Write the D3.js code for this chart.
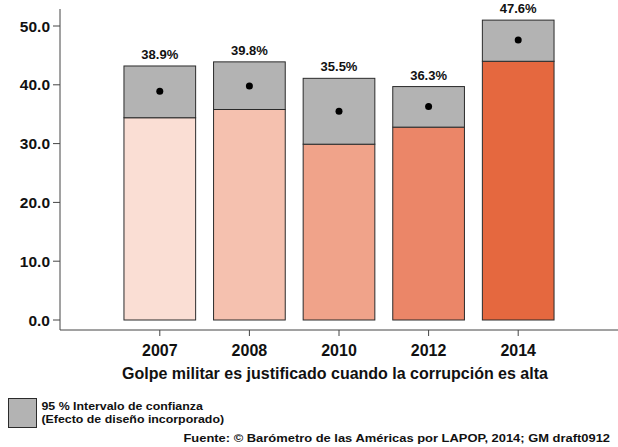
<!DOCTYPE html>
<html>
<head>
<meta charset="utf-8">
<script src="https://cdn.jsdelivr.net/npm/d3@7"></script>
<style>
  html, body { margin: 0; padding: 0; background: #fff; }
  svg { display: block; font-family: "Liberation Sans", Arial, Helvetica, sans-serif; }
</style>
</head>
<body>
<svg id="chart" width="618" height="447"></svg>
<script>
// ---- data ----
const years = ["2007", "2008", "2010", "2012", "2014"];
const means = [38.9, 39.8, 35.5, 36.3, 47.6];
const ciLow = [34.4, 35.8, 29.9, 32.8, 44.0];
const ciHigh = [43.2, 43.9, 41.1, 39.7, 51.0];
const yTicks = [0, 10, 20, 30, 40, 50];
const xTitle = "Golpe militar es justificado cuando la corrupción es alta";
const legendLines = ["95 % Intervalo de confianza", "(Efecto de diseño incorporado)"];
const source = "Fuente: \u00A9 Barómetro de las Américas por LAPOP, 2014; GM draft0912";

// ---- styles ----
const barColors = ["#FADED4", "#F5C1AF", "#F0A38A", "#EB8668", "#E5683F"];
const ciColor = "#B3B3B3";
const strokeColor = "#2b2b2b";

const svg = d3.select("#chart");
const data = years.map((y, i) => ({ year: y, mean: means[i], lo: ciLow[i], hi: ciHigh[i], color: barColors[i] }));

const x = d3.scaleBand().domain(years).range([115, 563]).paddingInner(0.2).paddingOuter(0.1);
const y = d3.scaleLinear().domain([0, 50]).range([320, 26]);

// y axis
const yAxis = svg.append("g").attr("transform", "translate(60,0)");
yAxis.append("line").attr("x1", 0).attr("x2", 0).attr("y1", 9).attr("y2", 330)
  .attr("stroke", "#444").attr("stroke-width", 1);
yAxis.selectAll("g.t").data(yTicks).join("g").attr("class", "t")
  .attr("transform", d => `translate(0,${y(d)})`)
  .each(function (d) {
    const g = d3.select(this);
    g.append("line").attr("x1", -7).attr("x2", 0).attr("stroke", "#444");
    g.append("text").attr("x", -10).attr("dy", "0.36em").attr("text-anchor", "end")
      .attr("font-size", 15.5).attr("font-weight", "bold").attr("fill", "#111")
      .text(d3.format(".1f")(d));
  });

// x axis
const xAxis = svg.append("g").attr("transform", "translate(0,330)");
xAxis.append("line").attr("x1", 60).attr("x2", 618).attr("stroke", "#444");
xAxis.selectAll("g.t").data(years).join("g").attr("class", "t")
  .attr("transform", d => `translate(${x(d) + x.bandwidth() / 2},0)`)
  .each(function (d) {
    const g = d3.select(this);
    g.append("line").attr("y1", 0).attr("y2", 6).attr("stroke", "#444");
    g.append("text").attr("y", 26).attr("text-anchor", "middle")
      .attr("font-size", 16).attr("font-weight", "bold").attr("fill", "#111").text(d);
  });

svg.append("text").attr("x", 335).attr("y", 379).attr("text-anchor", "middle")
  .attr("font-size", 16).attr("font-weight", "bold").attr("fill", "#111").text(xTitle);

// bars
const bars = svg.append("g");
bars.selectAll("rect.bar").data(data).join("rect").attr("class", "bar")
  .attr("x", d => x(d.year)).attr("width", x.bandwidth())
  .attr("y", d => y(d.lo)).attr("height", d => y(0) - y(d.lo))
  .attr("fill", d => d.color).attr("stroke", strokeColor).attr("stroke-width", 1);
bars.selectAll("rect.ci").data(data).join("rect").attr("class", "ci")
  .attr("x", d => x(d.year)).attr("width", x.bandwidth())
  .attr("y", d => y(d.hi)).attr("height", d => y(d.lo) - y(d.hi))
  .attr("fill", ciColor).attr("stroke", strokeColor).attr("stroke-width", 1);
bars.selectAll("circle").data(data).join("circle")
  .attr("cx", d => x(d.year) + x.bandwidth() / 2).attr("cy", d => y(d.mean)).attr("r", 3.5)
  .attr("fill", "#000");
bars.selectAll("text").data(data).join("text")
  .attr("x", d => x(d.year) + x.bandwidth() / 2).attr("y", d => y(d.hi) - 7)
  .attr("text-anchor", "middle").attr("font-size", 13).attr("font-weight", "bold").attr("fill", "#111")
  .text(d => d3.format(".1f")(d.mean) + "%");

// legend
svg.append("rect").attr("x", 8.5).attr("y", 398.5).attr("width", 28).attr("height", 29)
  .attr("fill", ciColor).attr("stroke", strokeColor);
svg.append("g").selectAll("text").data(legendLines).join("text")
  .attr("transform", (d, i) => `translate(41.5,${410 + i * 12.5}) scale(1.125,1)`)
  .attr("font-size", 11).attr("font-weight", "bold").attr("fill", "#111").text(d => d);

svg.append("text").attr("transform", "translate(610,442) scale(1.125,1)").attr("text-anchor", "end")
  .attr("font-size", 11.5).attr("font-weight", "bold").attr("fill", "#111").text(source);
</script>
</body>
</html>
